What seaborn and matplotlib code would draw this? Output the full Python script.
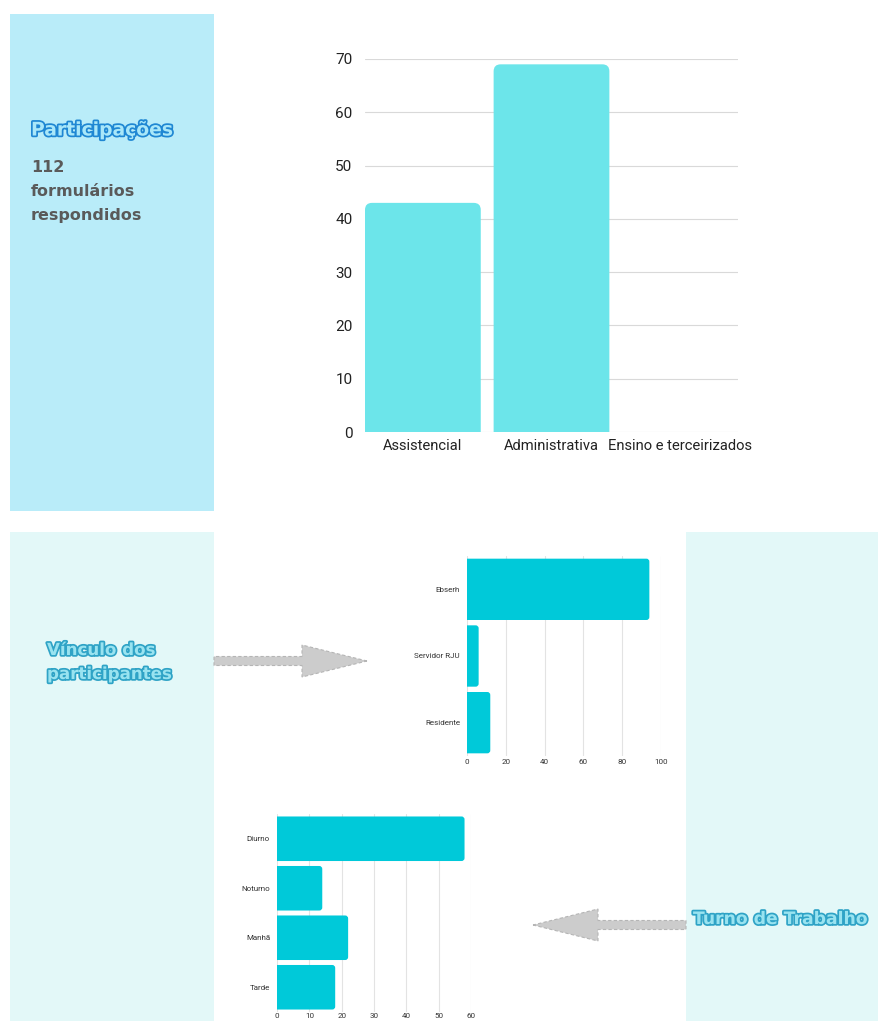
import matplotlib
matplotlib.use("Agg")
import matplotlib.pyplot as plt
import seaborn as sns
import pandas as pd
from matplotlib.patches import Rectangle, FancyArrow, FancyBboxPatch
import matplotlib.patheffects as pe

# ---------------- data ----------------
area_cats = ["Assistencial", "Administrativa", "Ensino e terceirizados"]
area_vals = [43, 69, 0]
area_ticks = [0, 10, 20, 30, 40, 50, 60, 70]

vinc_cats = ["Ebserh", "Servidor RJU", "Residente"]
vinc_vals = [94, 6, 12]
vinc_ticks = [0, 20, 40, 60, 80, 100]

turno_cats = ["Diurno", "Noturno", "Manhã", "Tarde"]
turno_vals = [58, 14, 22, 18]
turno_ticks = [0, 10, 20, 30, 40, 50, 60]

total_forms = "112"

# ---------------- layout ----------------
W, H = 879, 1021
sns.set_theme(style="white")
plt.rcParams["font.family"] = ["Roboto", "DejaVu Sans"]
fig = plt.figure(figsize=(W / 100, H / 100), dpi=100)
fig.patch.set_facecolor("white")


def box(x0, y0, x1, y1):
    return [x0 / W, 1 - y1 / H, (x1 - x0) / W, (y1 - y0) / H]


bg = fig.add_axes([0, 0, 1, 1], zorder=0)
bg.set_xlim(0, W)
bg.set_ylim(H, 0)
bg.axis("off")

bg.add_patch(Rectangle((10, 14), 204, 497, fc="#b9ecf9", ec="none"))
bg.add_patch(Rectangle((10, 532), 204, 489, fc="#e3f8f8", ec="none"))
bg.add_patch(Rectangle((686, 532), 193, 489, fc="#e3f8f8", ec="none"))

# arrows
bg.add_patch(FancyArrow(214, 661, 153, 0, width=9, head_width=32, head_length=65,
                        length_includes_head=True, fc="#cccccc", ec="#b5b5b5",
                        ls=(0, (3, 2)), lw=0.8))
bg.add_patch(FancyArrow(686, 925, -153, 0, width=9, head_width=32, head_length=65,
                        length_includes_head=True, fc="#cccccc", ec="#b5b5b5",
                        ls=(0, (3, 2)), lw=0.8))

# texts
heavy = ["DejaVu Sans"]
bg.text(31, 130, "Participações", fontsize=13.5, fontweight="heavy", color="#a9e7f9",
        va="center", ha="left", family=heavy,
        path_effects=[pe.withStroke(linewidth=2.5, foreground="#1f87d3")])
for yy, t in [(167, total_forms), (191, "formulários"), (215, "respondidos")]:
    bg.text(31, yy, t, fontsize=11.5, fontweight="bold", color="#5a5a5a",
            va="center", family=heavy)

outline = [pe.withStroke(linewidth=2.5, foreground="#2fa3c6")]
bg.text(47, 650, "Vínculo dos", fontsize=12, fontweight="heavy", color="#99e3f0",
        va="center", family=heavy, path_effects=outline)
bg.text(47, 674, "participantes", fontsize=12, fontweight="heavy", color="#99e3f0",
        va="center", family=heavy, path_effects=outline)
bg.text(693, 919, "Turno de Trabalho", fontsize=12.4, fontweight="heavy", color="#99e3f0",
        va="center", family=heavy, path_effects=outline)


def round_bars(ax, ax_px_w, ax_px_h, r_px, vertical):
    x0, x1 = ax.get_xlim()
    y0, y1 = ax.get_ylim()
    dx = abs(x1 - x0) / ax_px_w
    dy = abs(y1 - y0) / ax_px_h
    for p in list(ax.patches):
        x, y, w, h = p.get_x(), p.get_y(), p.get_width(), p.get_height()
        if w == 0 or h == 0:
            p.remove()
            continue
        rx, ry = r_px * dx, r_px * dy
        if vertical:
            y, h = y - ry, h + ry
        else:
            x, w = x - rx, w + rx
        fb = FancyBboxPatch((x, y), w, h,
                            boxstyle=f"round,pad=0,rounding_size={rx}",
                            mutation_aspect=dy / dx,
                            fc=p.get_facecolor(), ec="none", zorder=p.get_zorder())
        p.remove()
        ax.add_patch(fb)
        fb.set_clip_path(ax.patch)


# ---------------- top chart ----------------
ax1 = fig.add_axes(box(365, 59, 738, 432), zorder=1)
ax1.set_facecolor("none")
df1 = pd.DataFrame({"cat": area_cats, "val": area_vals})
sns.barplot(data=df1, x="cat", y="val", color="#6ce5ea", saturation=1, width=0.9, ax=ax1, zorder=2)
ax1.set_xlim(-0.45, 2.45)
ax1.set_ylim(0, 70)
ax1.set_yticks(area_ticks)
ax1.yaxis.grid(True, color="#d9d9d9", lw=0.8)
ax1.set_axisbelow(True)
for s in ax1.spines.values():
    s.set_visible(False)
ax1.set_xlabel("")
ax1.set_ylabel("")
ax1.tick_params(axis="y", length=0, pad=9, labelsize=11, labelcolor="#222222")
ax1.tick_params(axis="x", length=0, pad=5, labelsize=10.6, labelcolor="#222222")
round_bars(ax1, 373, 373, 7, vertical=True)

# ---------------- vínculo chart ----------------
ax2 = fig.add_axes(box(467, 556, 661, 756), zorder=1)
ax2.set_facecolor("none")
df2 = pd.DataFrame({"cat": vinc_cats, "val": vinc_vals})
sns.barplot(data=df2, y="cat", x="val", color="#00c9d9", saturation=1, width=0.92,
            orient="h", ax=ax2, zorder=2)
ax2.set_xlim(0, 100)
ax2.set_ylim(2.5, -0.5)
ax2.set_xticks(vinc_ticks)
ax2.xaxis.grid(True, color="#e3e3e3", lw=0.8)
ax2.set_axisbelow(True)
for s in ax2.spines.values():
    s.set_visible(False)
ax2.set_xlabel("")
ax2.set_ylabel("")
ax2.tick_params(axis="both", length=0, labelsize=5.8, labelcolor="#333333")
ax2.tick_params(axis="y", pad=5)
ax2.tick_params(axis="x", pad=2)
round_bars(ax2, 194, 200, 3, vertical=False)

# ---------------- turno chart ----------------
ax3 = fig.add_axes(box(277, 814, 471, 1012), zorder=1)
ax3.set_facecolor("none")
df3 = pd.DataFrame({"cat": turno_cats, "val": turno_vals})
sns.barplot(data=df3, y="cat", x="val", color="#00c9d9", saturation=1, width=0.9,
            orient="h", ax=ax3, zorder=2)
ax3.set_xlim(0, 60)
ax3.set_ylim(3.5, -0.5)
ax3.set_xticks(turno_ticks)
ax3.xaxis.grid(True, color="#e3e3e3", lw=0.8)
ax3.set_axisbelow(True)
for s in ax3.spines.values():
    s.set_visible(False)
ax3.set_xlabel("")
ax3.set_ylabel("")
ax3.tick_params(axis="both", length=0, labelsize=5.8, labelcolor="#333333")
ax3.tick_params(axis="y", pad=5)
ax3.tick_params(axis="x", pad=1)
round_bars(ax3, 194, 198, 3, vertical=False)

fig.savefig("out.png", dpi=100)
